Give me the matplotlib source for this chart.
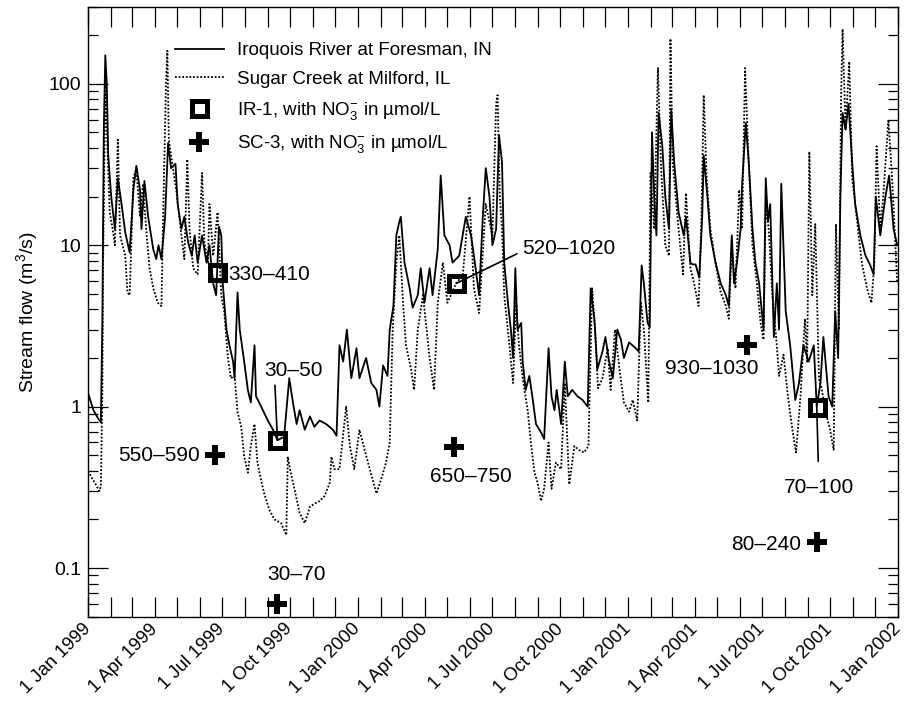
import numpy as np
import matplotlib
matplotlib.use("Agg")
import matplotlib.pyplot as plt
import matplotlib.dates as mdates
from matplotlib.ticker import FuncFormatter, FixedLocator, LogLocator, NullFormatter

plt.rcParams['font.family'] = ['Liberation Sans', 'DejaVu Sans']
plt.rcParams['mathtext.fontset'] = 'custom'
plt.rcParams['mathtext.rm'] = 'Liberation Sans'
plt.rcParams['mathtext.it'] = 'Liberation Sans:italic'
plt.rcParams['mathtext.bf'] = 'Liberation Sans:bold'

# ---------------- data (days since 1 Jan 1999, stream flow m3/s) ----------------
iroquois_day = [0, 7, 13, 17, 19, 21, 23, 25, 27, 31, 36, 40, 45, 50, 56, 61, 65, 70, 72, 76, 81, 88, 92, 95, 99,
                104, 108, 112, 118, 121, 126, 130, 135, 140, 144, 148, 154, 160, 164, 169, 173, 177, 180, 182,
                187, 191, 196, 198, 202, 205, 211, 216, 220, 225, 227, 234, 243, 250, 256, 265, 272, 277, 282,
                286, 293, 300, 306, 313, 322, 331, 336, 340, 345, 350, 356, 363, 367, 376, 383, 390, 394, 399,
                405, 408, 413, 417, 421, 423, 428, 435, 439, 446, 450, 455, 462, 466, 473, 477, 482, 489, 493,
                502, 511, 518, 522, 529, 534, 538, 543, 547, 552, 556, 560, 563, 568, 572, 575, 578, 581, 586,
                588, 592, 597, 601, 606, 613, 617, 623, 627, 631, 634, 640, 645, 649, 655, 662, 669, 676, 680,
                685, 689, 696, 700, 705, 710, 716, 721, 725, 732, 741, 745, 749, 752, 757, 760, 763, 766, 769,
                772, 777, 781, 786, 789, 793, 799, 806, 809, 815, 818, 822, 827, 831, 833, 838, 842, 849, 856,
                863, 867, 871, 874, 878, 883, 885, 890, 894, 899, 903, 908, 914, 917, 920, 923, 928, 932, 935,
                938, 944, 950, 957, 962, 968, 975, 982, 986, 991, 995, 1002, 1007, 1011, 1015, 1018, 1021,
                1025, 1029, 1034, 1038, 1045, 1052, 1058, 1063, 1066, 1072, 1079, 1084, 1090, 1095]
iroquois_flow = [1.2, 0.95, 0.85, 0.8, 3.2, 52, 150, 100, 36, 20, 12.6, 26, 18, 12, 9, 22, 31, 22, 12.6, 25, 15,
                 9.4, 8.2, 10, 8.2, 15, 43, 30, 32, 18, 12.6, 15, 10.5, 8.6, 11.5, 7.8, 11.5, 7.8, 10, 5.8, 4.9,
                 13, 11.5, 5.8, 3.0, 2.4, 1.9, 1.5, 5.1, 3.0, 1.9, 1.27, 1.06, 2.4, 1.16, 1.0, 0.82, 0.72, 0.62,
                 0.65, 1.5, 1.06, 0.78, 0.95, 0.72, 0.87, 0.75, 0.82, 0.78, 0.72, 0.66, 2.4, 1.9, 3.0, 1.5, 2.3,
                 1.5, 2.0, 1.4, 1.27, 1.0, 1.8, 1.55, 3.0, 4.2, 11.5, 14, 15, 7.8, 5.4, 4.1, 4.9, 7.2, 4.4, 7.2,
                 4.9, 9.4, 27, 11.5, 10, 7.8, 8.6, 15, 11.5, 8.6, 4.9, 15, 30, 20, 10, 12.6, 48, 32.6, 7.8, 4.4,
                 3.0, 2.0, 7.2, 3.0, 3.3, 1.9, 1.27, 1.55, 1.16, 0.78, 0.69, 0.63, 2.3, 1.16, 0.95, 1.27, 0.78,
                 1.9, 1.16, 1.27, 1.16, 1.1, 1.0, 5.4, 3.5, 1.7, 2.2, 2.7, 1.9, 1.5, 3.0, 2.6, 2.0, 2.5, 2.3, 2.2,
                 7.5, 5.8, 3.3, 3.1, 50, 20, 11.5, 66, 41, 20, 12.6, 70, 32.6, 16, 11.5, 15, 7.8, 7.6, 7.6, 6.3,
                 15, 36, 20, 11.5, 7.8, 5.8, 4.9, 4.2, 11.5, 5.8, 7.8, 12.6, 24, 57, 32.6, 12.6, 7.8, 5.8, 3.0,
                 26, 14, 18, 2.7, 5.8, 3.0, 24, 3.9, 2.4, 1.1, 1.4, 2.4, 1.9, 2.4, 1.0, 1.4, 2.7, 1.16, 1.0, 3.9,
                 2.0, 20, 66, 52, 75, 32.6, 18, 11.5, 8.6, 7.6, 6.6, 20, 11.5, 20, 27, 12.6, 10]

sugar_day = [0, 5, 10, 15, 17, 19, 20, 23, 25, 29, 33, 36, 40, 43, 50, 53, 56, 61, 65, 70, 74, 79, 83, 88, 94, 99,
             101, 105, 107, 109, 112, 119, 126, 130, 134, 137, 142, 148, 154, 157, 162, 164, 169, 175, 180, 184,
             189, 193, 198, 202, 207, 211, 216, 220, 225, 229, 234, 238, 245, 252, 261, 268, 270, 274, 279, 286,
             293, 300, 306, 313, 320, 327, 329, 333, 340, 349, 354, 360, 367, 374, 381, 390, 396, 403, 408, 412,
             417, 421, 426, 430, 437, 441, 446, 453, 462, 468, 473, 480, 486, 498, 507, 516, 522, 529, 538, 547,
             552, 554, 557, 560, 563, 570, 575, 579, 583, 588, 595, 599, 604, 608, 613, 617, 623, 627, 633, 640,
             645, 651, 658, 664, 671, 677, 682, 686, 690, 696, 703, 707, 713, 719, 725, 732, 737, 743, 748, 752,
             758, 761, 766, 771, 775, 781, 786, 788, 791, 799, 805, 809, 815, 820, 826, 830, 833, 837, 842, 849,
             856, 863, 867, 871, 876, 881, 885, 889, 893, 899, 905, 910, 914, 917, 921, 926, 931, 935, 941, 947,
             953, 958, 964, 970, 973, 976, 980, 984, 989, 993, 998, 1004, 1009, 1012, 1016, 1019, 1021, 1025,
             1030, 1034, 1040, 1047, 1054, 1060, 1064, 1067, 1072, 1076, 1083, 1088, 1095]
sugar_flow = [0.4, 0.36, 0.33, 0.3, 0.32, 1.2, 7.8, 100, 52, 16, 12.6, 10, 45, 11.5, 8.6, 5.1, 4.9, 26, 30, 15,
              24, 11.5, 7.2, 5.4, 4.4, 4.2, 13, 93, 160, 45, 36, 22, 11.5, 8.2, 34, 12.6, 7.2, 6.6, 28, 10.5,
              7.8, 18, 8.6, 16, 4.9, 3.9, 2.0, 1.5, 1.55, 0.93, 0.75, 0.49, 0.39, 0.57, 0.78, 0.45, 0.35, 0.29,
              0.23, 0.2, 0.19, 0.16, 0.49, 0.39, 0.31, 0.22, 0.19, 0.24, 0.25, 0.26, 0.28, 0.34, 0.49, 0.41,
              0.41, 1.0, 0.57, 0.41, 0.72, 0.54, 0.41, 0.29, 0.35, 0.45, 0.6, 3.0, 7.8, 11.5, 4.4, 2.4, 1.7,
              1.27, 3.0, 4.9, 2.0, 1.27, 4.4, 7.8, 4.4, 5.8, 6.6, 20, 5.4, 3.8, 18, 11.5, 75, 85, 20, 12.6, 4.9,
              2.4, 1.4, 4.4, 2.4, 1.5, 0.93, 0.6, 0.39, 0.34, 0.26, 0.31, 0.6, 0.31, 0.45, 0.41, 1.4, 0.33,
              0.57, 0.54, 0.52, 0.57, 5.4, 3.0, 1.3, 1.5, 2.3, 1.27, 3.0, 1.7, 1.06, 0.93, 1.1, 0.82, 4.4, 3.0,
              1.06, 28, 12.6, 125, 32.6, 10, 8.6, 190, 32.6, 12.6, 6.6, 21, 7.2, 5.8, 4.2, 15, 85, 26, 12.6,
              7.8, 5.1, 4.2, 3.5, 10, 5.4, 22, 12.6, 125, 41, 10, 5.8, 3.3, 2.6, 18, 12.6, 4.9, 2.7, 1.55, 2.1,
              1.16, 0.72, 0.52, 1.16, 3.5, 1.9, 38, 4.9, 13.5, 1.5, 1.27, 0.93, 0.72, 0.54, 13.5, 3.0, 85, 218,
              52, 137, 26, 15, 7.8, 5.4, 4.4, 7.8, 41, 12.6, 20, 60, 26, 5.8]

ir1_date = ['1999-06-24', '1999-09-14', '2000-05-13', '2001-09-13']
ir1_flow = [6.8, 0.62, 5.8, 1.0]
ir1_label = ['330–410', '30–50', '520–1020', '70–100']

sc3_date = ['1999-06-21', '1999-09-14', '2000-05-10', '2001-06-10', '2001-09-13']
sc3_flow = [0.5, 0.06, 0.56, 2.4, 0.145]
sc3_label = ['550–590', '30–70', '650–750', '930–1030', '80–240']

# ---------------- figure ----------------
base = np.datetime64('1999-01-01')
ir_dates = base + np.array(iroquois_day).astype('timedelta64[D]')
sc_dates = base + np.array(sugar_day).astype('timedelta64[D]')
ir1_d = np.array(ir1_date, dtype='datetime64[D]')
sc3_d = np.array(sc3_date, dtype='datetime64[D]')

W, H = 907, 701
fig = plt.figure(figsize=(W / 100, H / 100), dpi=100)
L, R, T, B = 88.3, 898.0, 6.7, 616.7
ax = fig.add_axes([L / W, (H - B) / H, (R - L) / W, (B - T) / H])

ms_sq, = ax.plot(ir1_d, ir1_flow, linestyle='none', marker='s', ms=10.8, mew=3.6,
                 mec='black', mfc='white', zorder=2, label='IR-1, with NO$_3^{-}$ in µmol/L')
ms_pl, = ax.plot(sc3_d, sc3_flow, linestyle='none', marker='P', ms=15, mew=0,
                 color='black', zorder=2, label='SC-3, with NO$_3^{-}$ in µmol/L')
l_ir, = ax.plot(ir_dates, iroquois_flow, color='black', lw=1.3, zorder=3,
                label='Iroquois River at Foresman, IN')
l_sc, = ax.plot(sc_dates, sugar_flow, color='black', lw=1.3, linestyle=(0, (1.0, 1.0)), zorder=3,
                label='Sugar Creek at Milford, IL')

ax.set_yscale('log')
ax.set_ylim(0.05, 300)
ax.set_xlim(np.datetime64('1999-01-01'), np.datetime64('2002-01-01'))

ax.yaxis.set_major_locator(FixedLocator([0.1, 1, 10, 100]))
ax.yaxis.set_major_formatter(FuncFormatter(lambda v, p: '%g' % v))
ax.yaxis.set_minor_locator(LogLocator(base=10, subs=np.arange(2, 10)))
ax.yaxis.set_minor_formatter(NullFormatter())

ax.xaxis.set_major_locator(mdates.MonthLocator())
def xfmt(v, p):
    d = mdates.num2date(v)
    if d.month in (1, 4, 7, 10):
        return '1 ' + d.strftime('%b %Y')
    return ''
ax.xaxis.set_major_formatter(FuncFormatter(xfmt))

ax.tick_params(which='both', direction='in', top=True, right=True, width=0.9, color='black')
ax.tick_params(which='major', length=14.5, labelsize=14, pad=5)
ax.tick_params(axis='x', which='major', labelsize=13.3, pad=7)
ax.tick_params(which='minor', length=7.5)
for lab in ax.get_xticklabels():
    lab.set_rotation(45)
    lab.set_ha('right')
    lab.set_va('center')
    lab.set_rotation_mode('anchor')
for s in ax.spines.values():
    s.set_linewidth(1.0)

ax.set_ylabel('Stream flow (m$^{3}$/s)', fontsize=14, labelpad=6)

# annotations (offsets in pixels)
ann_fs = 15
ir1_offsets = [(11, -2, 'left', 'center', None),
               (16, 70, 'center', 'center', (0.18, 0.0)),
               (66, 35, 'left', 'center', (0.0, 0.35)),
               (2, -81, 'center', 'center', (0.5, 1.0))]
for d, v, t, (dx, dy, ha, va, rel) in zip(ir1_d, ir1_flow, ir1_label, ir1_offsets):
    kw = {}
    if rel is not None:
        kw['arrowprops'] = dict(arrowstyle='-', color='black', lw=1.2, relpos=rel,
                                shrinkA=(10 if rel == (0.5, 1.0) else 2), shrinkB=0)
    ax.annotate(t, xy=(d, v), xytext=(dx, dy), textcoords='offset pixels',
                ha=ha, va=va, fontsize=ann_fs, zorder=4, **kw)

sc3_offsets = [(-15, 0, 'right', 'center'),
               (19, 29, 'center', 'center'),
               (17, -29, 'center', 'center'),
               (-35, -23, 'center', 'center'),
               (-16, -2, 'right', 'center')]
for d, v, t, (dx, dy, ha, va) in zip(sc3_d, sc3_flow, sc3_label, sc3_offsets):
    ax.annotate(t, xy=(d, v), xytext=(dx, dy), textcoords='offset pixels',
                ha=ha, va=va, fontsize=ann_fs, zorder=4)

ax.legend(handles=[l_ir, l_sc, ms_sq, ms_pl], loc='upper left', bbox_to_anchor=(0.107, 0.942),
          frameon=False, fontsize=13.5, handlelength=2.6, handletextpad=0.7,
          labelspacing=0.62, borderpad=0, borderaxespad=0)

fig.savefig('out.png', dpi=100)
